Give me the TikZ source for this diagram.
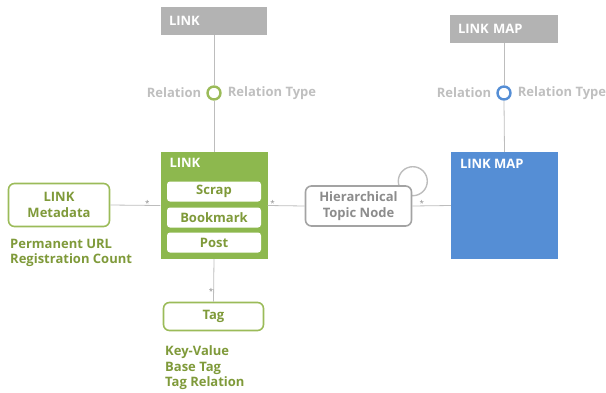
\documentclass[tikz,border=0pt]{standalone}
\usepackage{fontspec}
\setmainfont{Open Sans}
\usetikzlibrary{backgrounds}
\definecolor{gbox}{HTML}{B3B3B3}
\definecolor{gline}{HTML}{BDBDBD}
\definecolor{gtext}{HTML}{BFBFBF}
\definecolor{grn}{HTML}{8DB84E}
\definecolor{grnline}{HTML}{9BBB59}
\definecolor{olive}{HTML}{7F9A3A}
\definecolor{blu}{HTML}{558ED5}
\definecolor{dgray}{HTML}{8C8C8C}
\tikzset{
  every node/.style={font=\bfseries\fontsize{13}{16.5}\selectfont},
  graybox/.style={rectangle, fill=gbox, text=white, minimum height=28pt, inner sep=0pt, align=left},
  relcirc/.style={circle, draw, line width=2.4pt, fill=white, minimum size=13pt, inner sep=0pt},
  lbl/.style={text=gtext, font=\bfseries\fontsize{13}{15}\selectfont, inner sep=2pt},
  bigbox/.style={rectangle, minimum width=107pt, minimum height=107pt, inner sep=0pt},
  inbox/.style={rectangle, rounded corners=3pt, fill=white, text=olive, minimum width=94pt, minimum height=20pt, inner sep=0pt},
  roundbox/.style={rectangle, rounded corners=6pt, draw=grnline, line width=1.6pt, fill=white, text=olive, inner sep=0pt, align=center},
  conn/.style={draw=gline, line width=0.8pt},
  star/.style={text=dgray, font=\fontsize{8}{8}\selectfont, inner sep=0pt},
  ttl/.style={text=white, inner sep=0pt, anchor=north west},
  note/.style={text=olive, anchor=west, inner sep=0pt, align=left, font=\bfseries\fontsize{13}{15.5}\selectfont}
}
\begin{document}
\begin{tikzpicture}[x=1pt,y=-1pt]
\useasboundingbox (0,0) rectangle (606,392);
% top boxes
\node[graybox, minimum width=106pt, text width=90pt] (toplink) at (214,21) {LINK};
\node[graybox, minimum width=108pt, text width=92pt] (topmap) at (504,29) {LINK MAP};
\node[relcirc, draw=grnline, label={[lbl, label distance=3pt]left:Relation}, label={[lbl, label distance=4pt]right:Relation Type}] (rc1) at (214,93) {};
\node[relcirc, draw=blu, label={[lbl, label distance=3pt]left:Relation}, label={[lbl, label distance=4pt]right:Relation Type}] (rc2) at (504,93) {};
% main boxes
\node[bigbox, fill=grn] (link) at (214,205.5) {};
\node[ttl] (linkt) at ([shift={(9,6)}]link.north west) {LINK};
\node[inbox] (scrap) at (214,191.5) {Scrap};
\node[inbox] (bookmark) at (214,217.5) {Bookmark};
\node[inbox] (post) at (214,242.5) {Post};
\node[bigbox, fill=blu] (map) at (504.5,205.5) {};
\node[ttl] (mapt) at ([shift={(9,7)}]map.north west) {LINK MAP};
\node[roundbox, minimum width=101pt, minimum height=43pt] (meta) at (59,205) {LINK\\Metadata};
\node[roundbox, draw=dgray!80, text=dgray, minimum width=106pt, minimum height=40pt] (htn) at (358.5,206) {Hierarchical\\Topic Node};
\node[roundbox, minimum width=100pt, minimum height=28pt] (tag) at (213.5,316.5) {Tag};
% self loop
\begin{pgfonlayer}{background}
\draw[draw=gline, line width=1.4pt] ([shift={(0.5,-4)}]htn.north east) circle (14.5pt);
\end{pgfonlayer}
% connectors
\draw[conn] (toplink.south) -- (rc1.north);
\draw[conn] (rc1.south) -- (link.north);
\draw[conn] (topmap.south) -- (rc2.north);
\draw[conn] (rc2.south) -- (map.north);
\draw[conn] (meta.east) -- (link.west);
\draw[conn] (link.east) -- (htn.west);
\draw[conn] (htn.east) -- (map.west);
\draw[conn] (link.south) -- (tag.north);
% multiplicity stars
\node[star] (s1) at ([shift={(-13,-2.5)}]link.west) {*};
\node[star] (s2) at ([shift={(5,-2.5)}]link.east) {*};
\node[star] (s3) at ([shift={(-29,-2.5)}]map.west) {*};
\node[star] (s4) at ([shift={(-2.5,-10)}]tag.north) {*};
% notes
\node[note] (metanote) at (10,253) {Permanent URL\\Registration Count};
\node[note] (tagnote) at (165,368) {Key-Value\\Base Tag\\Tag Relation};
\end{tikzpicture}
\end{document}
